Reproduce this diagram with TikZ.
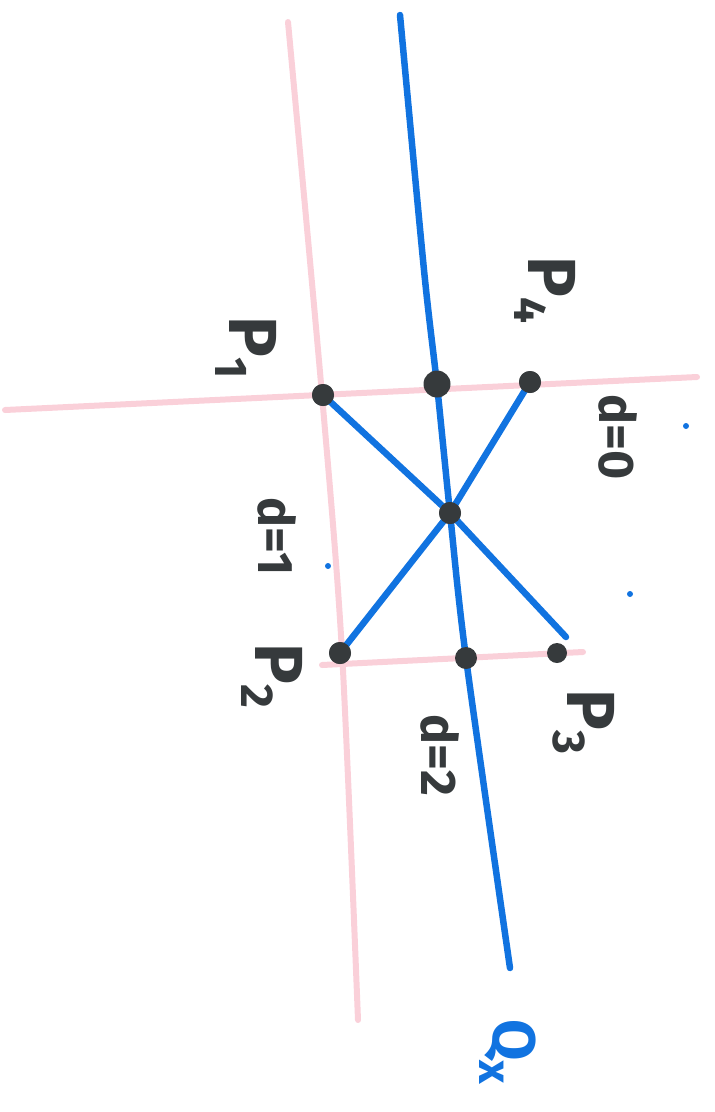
\documentclass[tikz,border=0pt]{standalone}
\usepackage{fontspec}
\setmainfont{Fira Sans}
\definecolor{penblue}{HTML}{1173E0}
\definecolor{penpink}{HTML}{FAD0D9}
\definecolor{ink}{HTML}{363A3C}
\newcommand{\lowsub}[1]{\raisebox{-14pt}{\fontsize{46}{46}\selectfont #1}}
\tikzset{
  pinkline/.style={penpink, line width=6pt, line cap=round},
  blueline/.style={penblue, line width=6.5pt, line cap=round},
  dotnode/.style={circle, fill=ink, inner sep=0pt, minimum size=22pt},
  speck/.style={circle, fill=penblue, inner sep=0pt, minimum size=6pt},
  biglabel/.style={rotate=-90, text=ink, font=\bfseries\fontsize{68}{68}\selectfont, inner sep=0pt},
  dlabel/.style={rotate=-90, text=ink, font=\bfseries\fontsize{50}{50}\selectfont, inner sep=0pt},
}
\begin{document}
\begin{tikzpicture}[x=1pt,y=-1pt]
\useasboundingbox (0,0) rectangle (715,1112);
% pink lines
\draw[pinkline] plot[smooth] coordinates {(288,22) (322,395) (342,652) (358,1020)};
\draw[pinkline] (5,410) -- (697,377);
\draw[pinkline] (322,665) -- (583,652);
% blue line Qx
\draw[blueline] plot[smooth] coordinates {(400,15) (424,270) (437,385) (450,513) (466,658) (510,968)};
% named points
\node[dotnode] (p1) at (323,395) {};
\node[dotnode, minimum size=27pt] (q0) at (437,384) {};
\node[dotnode] (p4) at (530,382) {};
\node[dotnode] (c) at (450,513) {};
\node[dotnode] (p2) at (340,653) {};
\node[dotnode] (q2) at (466,658) {};
\node[dotnode, minimum size=20pt] (p3) at (557,653) {};
\coordinate (x3) at (566,637);
% blue X
\draw[blueline] (p1.center) -- (c.center) -- (x3);
\draw[blueline] (p4.center) -- (c.center) -- (p2.center);
\node[dotnode] at (c) {};
\node[dotnode] at (p1) {};
\node[dotnode] at (p4) {};
\node[dotnode] at (p2) {};
% specks
\node[speck] (s1) at (686,426) {};
\node[speck] (s2) at (630,594) {};
\node[speck] (s3) at (328,566) {};
% labels
\node[biglabel] (lp1) at (246,348) {P\lowsub{1}};
\node[biglabel] (lp4) at (545,290) {P\lowsub{4}};
\node[biglabel] (lp2) at (272,676) {P\lowsub{2}};
\node[biglabel] (lp3) at (584,722) {P\lowsub{3}};
\node[dlabel] (ld0) at (618,437) {d=0};
\node[dlabel] (ld1) at (277,537) {d=1};
\node[dlabel] (ld2) at (440,755) {d=2};
\node[biglabel, text=penblue, font=\bfseries\fontsize{60}{60}\selectfont] (lq) at (508,1052) {Q\lowsub{x}};
\end{tikzpicture}
\end{document}
